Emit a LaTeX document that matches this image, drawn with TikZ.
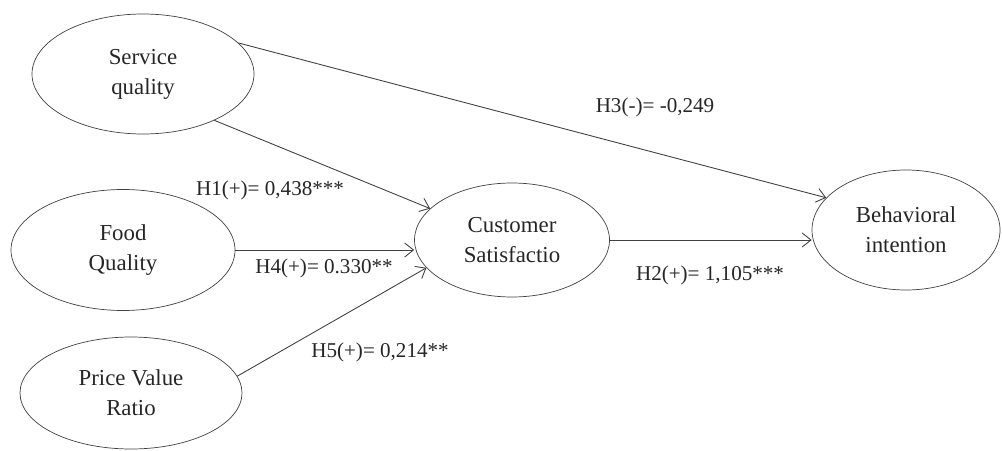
\documentclass[tikz,border=0pt]{standalone}
\usepackage{fontspec}
\setmainfont{Liberation Serif}
\usetikzlibrary{shapes.geometric,arrows.meta}
\tikzset{
	construct/.style={draw=black!75,ellipse,inner sep=0pt,align=center,text=black!85,font=\fontsize{13}{17}\selectfont},
	path/.style={draw=black!75,line width=0.5pt,-{Straight Barb[length=5pt,width=8pt]}},
	coef/.style={text=black!85,font=\fontsize{12}{14}\selectfont,inner sep=0pt}
}
\begin{document}
\begin{tikzpicture}
			\useasboundingbox (0,0) rectangle (20.04,9);
			\node[construct,minimum width=4.44cm,minimum height=2.4cm] (serv) at (2.86,7.52) {Service\\quality};
			\node[construct,minimum width=4.48cm,minimum height=2.42cm] (food) at (2.46,4.00) {Food\\Quality};
			\node[construct,minimum width=4.44cm,minimum height=2.24cm] (price) at (2.62,1.14) {Price Value\\Ratio};
			\node[construct,minimum width=3.9cm,minimum height=2.28cm] (cust) at (10.24,4.20) {Customer\\Satisfactio};
			\node[construct,minimum width=3.76cm,minimum height=2.4cm] (beh) at (18.12,4.40) {Behavioral\\intention};
			\draw[path] (serv.18) -- (beh.158);
			\draw[path] (serv.-33) -- (cust.159);
			\draw[path] (food.east) -- (food.east -| cust.west);
			\draw[path] (price.9) -- (cust.198);
			\draw[path] (cust.east) -- (cust.east -| beh.west);
			\node[coef] (h1) at (5.40,5.20) {H1(+)= 0,438***};
			\node[coef] (h4) at (6.48,3.64) {H4(+)= 0.330**};
			\node[coef] (h5) at (7.60,1.96) {H5(+)= 0,214**};
			\node[coef] (h3) at (13.10,6.86) {H3(-)= -0,249};
			\node[coef] (h2) at (14.20,3.50) {H2(+)= 1,105***};
		\end{tikzpicture}
\end{document}
